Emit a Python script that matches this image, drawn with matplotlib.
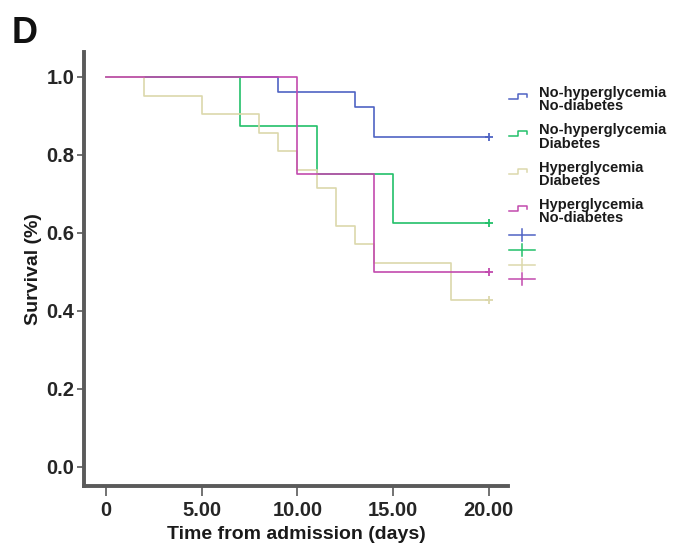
import numpy as np
import matplotlib
matplotlib.use("Agg")
import matplotlib.pyplot as plt
from matplotlib.lines import Line2D

plt.rcParams.update({"font.family": ["Liberation Sans", "DejaVu Sans"], "font.weight": "bold",
                     "axes.labelweight": "bold"})

# Kaplan-Meier steps (time of event, survival after event); follow-up ends at day 20
groups = ["No-hyperglycemia\nNo-diabetes", "No-hyperglycemia\nDiabetes",
          "Hyperglycemia\nDiabetes", "Hyperglycemia\nNo-diabetes"]
colors = ["#4f63c4", "#22c06a", "#dcd8ac", "#c24aae"]
t_blue = [9, 13, 14];            s_blue = [0.962, 0.923, 0.846]
t_green = [7, 11, 15];           s_green = [0.875, 0.75, 0.625]
t_beige = [2, 5, 8, 9, 10, 11, 12, 13, 14, 18]
s_beige = [0.952, 0.905, 0.857, 0.810, 0.762, 0.714, 0.619, 0.571, 0.524, 0.429]
t_mag = [10, 14];                s_mag = [0.75, 0.50]
t_end = 20
series = [(t_blue, s_blue), (t_green, s_green), (t_beige, s_beige), (t_mag, s_mag)]

xticks = [0, 5, 10, 15, 20]
xticklabels = ["0", "5.00", "10.00", "15.00", "20.00"]
yticks = [0.0, 0.2, 0.4, 0.6, 0.8, 1.0]

fig = plt.figure(figsize=(6.83, 5.59), dpi=100)
ax = fig.add_axes([84/683, 1-486/559, (508-84)/683, (486-52)/559])

for (t, s), c in zip(series, colors):
    x = [0] + t + [t_end]
    y = [1.0] + s + [s[-1]]
    ax.step(x, y, where="post", color=c, lw=1.2)
    ax.plot([t_end], [s[-1]], marker="+", color=c, ms=6, mew=1.3)

ax.set_xlim(-1.15, 21.0)
ax.set_ylim(-0.049, 1.064)
ax.set_xticks(xticks)
ax.set_xticklabels(xticklabels)
ax.set_yticks(yticks)
ax.set_yticklabels([f"{v:.1f}" for v in yticks])
for sp in ["top", "right"]:
    ax.spines[sp].set_visible(False)
for sp in ["left", "bottom"]:
    ax.spines[sp].set_linewidth(2.8)
    ax.spines[sp].set_color("#5a5a5a")
ax.tick_params(axis="both", colors="#5a5a5a", width=1.2, labelcolor="#262626", labelsize=14.5)
ax.tick_params(axis="y", length=5, pad=2)
ax.tick_params(axis="x", length=7, pad=4)
ax.set_xlabel("Time from admission (days)", fontsize=14, color="#1a1a1a", labelpad=4)
ax.set_ylabel("Survival (%)", fontsize=14, color="#1a1a1a", labelpad=3)

# legend drawn in pixel coordinates over the figure
lg = fig.add_axes([0, 0, 1, 1], facecolor="none")
lg.set_xlim(0, 683); lg.set_ylim(559, 0); lg.axis("off")
for i, (g, c) in enumerate(zip(groups, colors)):
    y0 = 99 + i * 37.3
    lg.add_line(Line2D([509, 518, 518, 527, 527], [y0, y0, y0-5, y0-5, y0-2], color=c, lw=1.1))
    lg.text(539, y0 - 13, g, fontsize=10.5, va="top", ha="left", color="#1a1a1a", linespacing=0.95)
for i, c in enumerate(colors):
    yc = 235 + i * 14.8
    lg.add_line(Line2D([509, 535], [yc, yc], color=c, lw=1.1))
    lg.add_line(Line2D([522, 522], [yc-6, yc+6], color=c, lw=1.1))

fig.text(12/683, 1-43/559, "D", fontsize=26, fontweight="bold", color="#111111")

fig.savefig("out.png", dpi=100)
